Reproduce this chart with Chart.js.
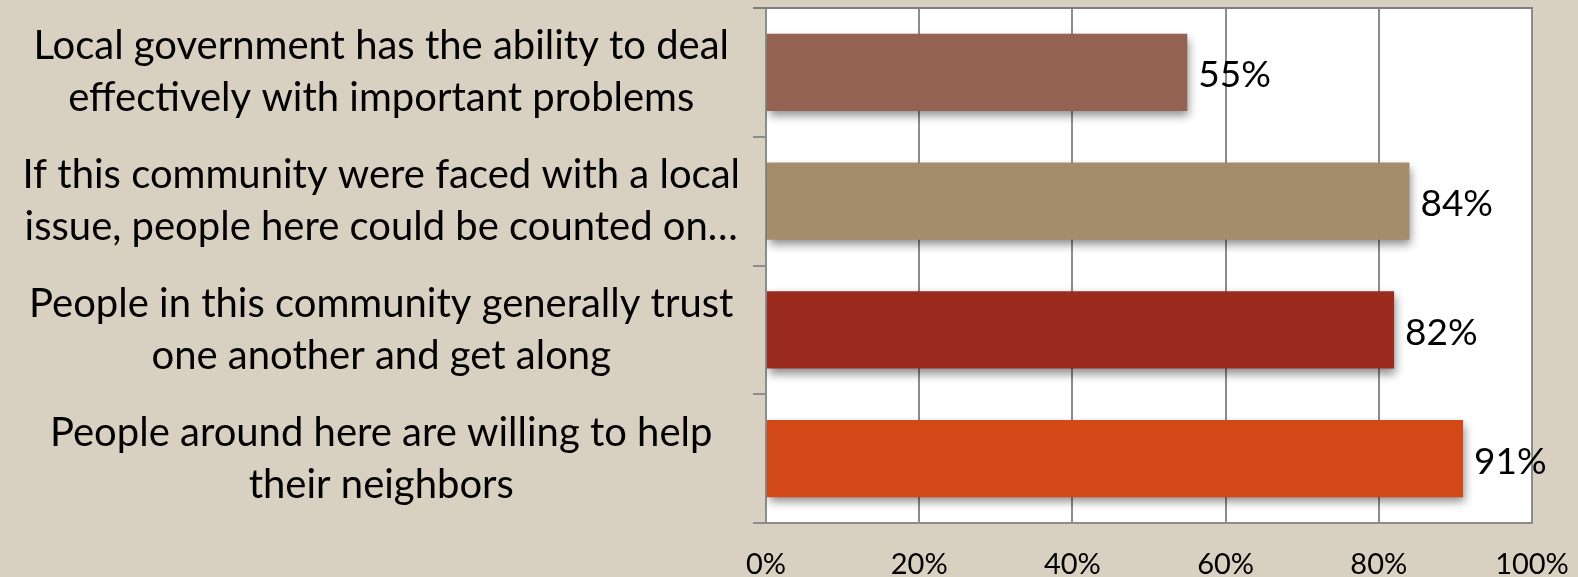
<!DOCTYPE html>
<html>
<head>
<meta charset="utf-8">
<title>Community attitudes</title>
<script src="https://cdn.jsdelivr.net/npm/chart.js@4/dist/chart.umd.min.js"></script>
<style>
  html, body { margin: 0; padding: 0; background: #d8d0c0; }
  .wrap { position: relative; width: 1578px; height: 577px; }
</style>
</head>
<body>
<div class="wrap"><canvas id="barChart"></canvas></div>
<script>
/* ── Data ───────────────────────────────────────────────── */

const categories = [
  ['Local government has the ability to deal', 'effectively with important problems'],
  ['If this community were faced with a local', 'issue, people here could be counted on…'],
  ['People in this community generally trust', 'one another and get along'],
  ['People around here are willing to help', 'their neighbors']
];
const values     = [55, 84, 82, 91];
const barColors  = ['#946251', '#a38d6b', '#9b2b1f', '#d34817'];
const xTicks     = [0, 20, 40, 60, 80, 100];


/* ── Config ─────────────────────────────────────────────── */

const CONFIG = {
  font:      'Lato',
  gridColor: '#8c8c8c',
  frameColor:'#7f7f7f',
  plotBg:    '#ffffff',
  textColor: '#000000'
};


/* ── Plugins ────────────────────────────────────────────── */

// white plot area plus the top frame line
const plotFrame = {
  id: 'plotFrame',
  beforeDraw(chart) {
    const { ctx, chartArea: a } = chart;
    ctx.save();
    ctx.fillStyle = CONFIG.plotBg;
    ctx.fillRect(a.left, a.top, a.right - a.left, a.bottom - a.top);
    ctx.restore();
  },
  afterDraw(chart) {
    const { ctx, chartArea: a } = chart;
    ctx.save();
    ctx.strokeStyle = CONFIG.frameColor;
    ctx.lineWidth = 2;
    ctx.beginPath();
    ctx.moveTo(a.left - 13, a.top);
    ctx.lineTo(a.right + 1, a.top);
    ctx.stroke();
    ctx.restore();
  }
};

// soft drop shadow under the bars
const barShadow = {
  id: 'barShadow',
  beforeDatasetsDraw(chart) {
    const ctx = chart.ctx;
    ctx.save();
    ctx.shadowColor = 'rgba(0,0,0,0.45)';
    ctx.shadowBlur = 9;
    ctx.shadowOffsetX = 2;
    ctx.shadowOffsetY = 5;
  },
  afterDatasetsDraw(chart) {
    chart.ctx.restore();
  }
};

// percentage labels to the right of each bar
const valueLabels = {
  id: 'valueLabels',
  afterDraw(chart) {
    const { ctx } = chart;
    const meta = chart.getDatasetMeta(0);
    ctx.save();
    ctx.font = `37px ${CONFIG.font}`;
    ctx.fillStyle = CONFIG.textColor;
    ctx.textAlign = 'left';
    ctx.textBaseline = 'middle';
    meta.data.forEach((bar, i) => {
      ctx.fillText(values[i] + '%', bar.x + 11, bar.y + 3);
    });
    ctx.restore();
  }
};


/* ── Chart ──────────────────────────────────────────────── */

new Chart(document.getElementById('barChart'), {
  type: 'bar',
  data: {
    labels: categories,
    datasets: [{
      data: values,
      backgroundColor: barColors,
      borderWidth: 0,
      categoryPercentage: 0.6,
      barPercentage: 1
    }]
  },
  options: {
    indexAxis: 'y',
    responsive: true,
    maintainAspectRatio: false,
    animation: false,
    layout: { padding: { top: 8, right: 46, left: 0, bottom: 0 } },
    plugins: {
      legend: { display: false },
      tooltip: { enabled: false }
    },
    scales: {
      x: {
        min: 0, max: 100,
        afterBuildTicks: scale => { scale.ticks = xTicks.map(v => ({ value: v })); },
        afterFit: scale => {
          scale.height = 54;
          scale.paddingLeft = 0;
          scale.paddingRight = 0;
        },
        grid: { color: CONFIG.gridColor, lineWidth: 2, drawTicks: false },
        border: { display: true, color: CONFIG.gridColor, width: 2 },
        ticks: {
          padding: 24,
          color: CONFIG.textColor,
          font: { family: CONFIG.font, size: 29 },
          callback: v => v + '%'
        }
      },
      y: {
        afterFit: scale => {
          scale.width = 766;
          scale.paddingTop = 0;
          scale.paddingBottom = 0;
        },
        grid: {
          offset: true,
          drawOnChartArea: false,
          drawTicks: true,
          tickLength: 13,
          color: CONFIG.gridColor,
          lineWidth: 2
        },
        border: { display: true, color: CONFIG.gridColor, width: 2 },
        ticks: {
          crossAlign: 'center',
          padding: 13,
          color: CONFIG.textColor,
          font: { family: CONFIG.font, size: 40, lineHeight: 1.3 }
        }
      }
    }
  },
  plugins: [plotFrame, barShadow, valueLabels]
});
</script>
</body>
</html>
